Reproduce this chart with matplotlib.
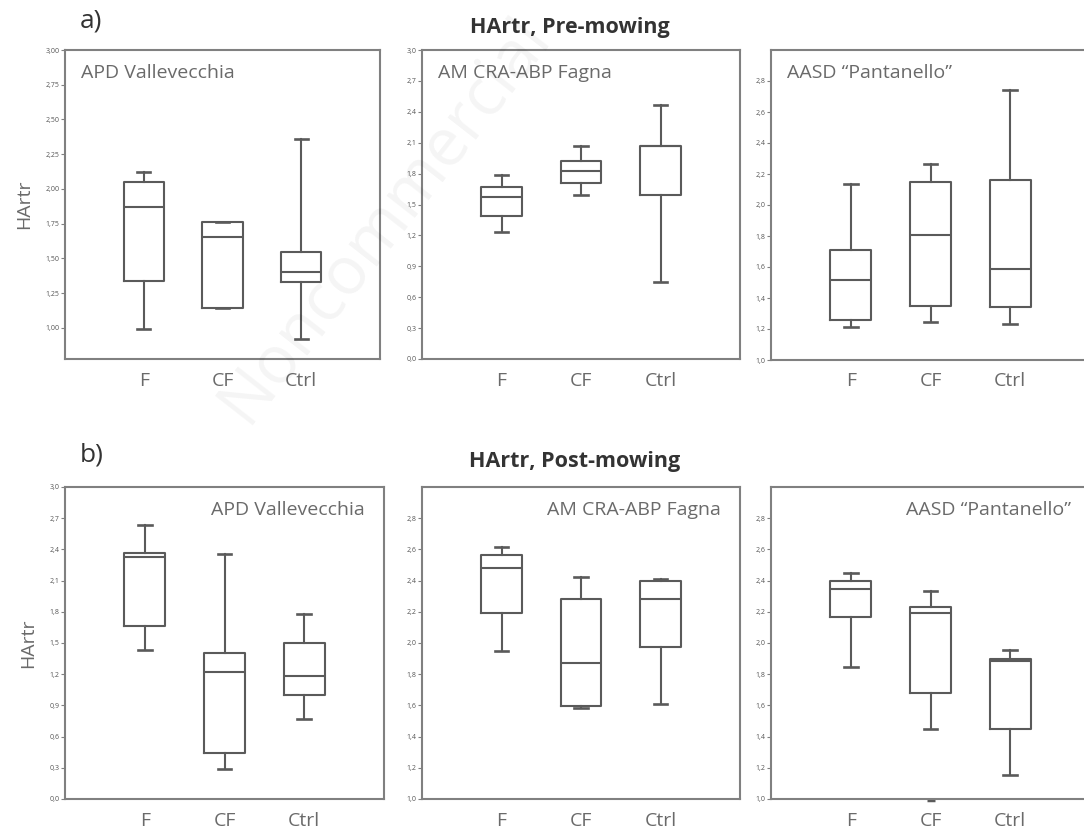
import numpy as np
import matplotlib
matplotlib.use("Agg")
import matplotlib.pyplot as plt
from matplotlib.ticker import FuncFormatter

plt.rcParams['font.family'] = ['Open Sans', 'DejaVu Sans']

groups = ["F", "CF", "Ctrl"]

# five-number summaries per group: [whisker low, q1, median, q3, whisker high]
pre_vallevecchia = [[0.995, 1.337, 1.872, 2.048, 2.120],
                    [1.145, 1.145, 1.651, 1.759, 1.759],
                    [0.920, 1.333, 1.402, 1.547, 2.357]]
pre_fagna = [[1.235, 1.387, 1.574, 1.668, 1.784],
             [1.597, 1.710, 1.826, 1.923, 2.065],
             [0.748, 1.597, 2.065, 2.065, 2.468]]
pre_pantanello = [[1.215, 1.256, 1.516, 1.710, 2.133],
                  [1.247, 1.348, 1.804, 2.150, 2.262],
                  [1.230, 1.344, 1.589, 2.159, 2.742]]
post_vallevecchia = [[1.433, 1.666, 2.328, 2.367, 2.639],
                     [0.288, 0.442, 1.225, 1.401, 2.360],
                     [0.768, 1.001, 1.187, 1.497, 1.778]]
post_fagna = [[1.948, 2.190, 2.481, 2.565, 2.618],
              [1.584, 1.595, 1.873, 2.284, 2.426],
              [1.606, 1.976, 2.284, 2.398, 2.408]]
post_pantanello = [[1.845, 2.169, 2.344, 2.398, 2.451],
                   [1.449, 1.681, 2.194, 2.233, 2.333],
                   [1.156, 1.449, 1.884, 1.895, 1.955]]
post_pantanello_outliers = [[], [0.995], []]

site_names = ["APD Vallevecchia", "AM CRA-ABP Fagna", "AASD \u201cPantanello\u201d"]

fig = plt.figure(figsize=(10.84, 8.33), dpi=100)
W, H = 1084.0, 833.0

def make_ax(x0, x1, ytop, ybot):
    return fig.add_axes([x0 / W, 1 - ybot / H, (x1 - x0) / W, (ybot - ytop) / H])

line_c = "#5a5a5a"
spine_c = "#808080"
text_c = "#6a6a6a"

def draw_panel(ax, summ, ylim, ticks, fmt, label, label_right, outliers=None):
    stats = []
    for i, s in enumerate(summ):
        d = dict(whislo=s[0], q1=s[1], med=s[2], q3=s[3], whishi=s[4],
                 fliers=outliers[i] if outliers else [])
        stats.append(d)
    parts = ax.bxp(stats, positions=[1, 2, 3], widths=0.51, capwidths=0.17,
                   showfliers=True, patch_artist=False,
                   boxprops=dict(color=line_c, lw=1.5),
                   medianprops=dict(color=line_c, lw=1.5),
                   whiskerprops=dict(color=line_c, lw=1.5),
                   capprops=dict(color=line_c, lw=1.9),
                   flierprops=dict(marker='_', markersize=6, markeredgecolor=line_c,
                                   markeredgewidth=2.5))
    for fl in parts['fliers']:
        fl.set_clip_on(False)
    ax.set_xlim(0, 4)
    ax.set_ylim(*ylim)
    ax.set_yticks(ticks)
    ax.yaxis.set_major_formatter(FuncFormatter(lambda v, p: (fmt % v).replace('.', ',')))
    ax.set_xticks([1, 2, 3])
    ax.set_xticklabels(groups, fontsize=14, color=text_c)
    ax.tick_params(axis='x', length=0, pad=9)
    ax.tick_params(axis='y', length=3, width=0.8, colors=spine_c, labelsize=5,
                   labelcolor="#555555", pad=1)
    for sp in ax.spines.values():
        sp.set_color(spine_c)
        sp.set_linewidth(1.5)
    if label_right:
        ax.text(0.94, 0.926, label, transform=ax.transAxes, ha='right', va='center',
                fontsize=14, color=text_c)
    else:
        ax.text(0.05, 0.926, label, transform=ax.transAxes, ha='left', va='center',
                fontsize=14, color=text_c)

# top row
a1 = make_ax(65, 380, 50, 359)
a2 = make_ax(422, 740, 50, 359)
a3 = make_ax(771, 1090, 50, 360)
draw_panel(a1, pre_vallevecchia, (0.776, 3.0), np.arange(1.0, 3.01, 0.25), "%.2f", site_names[0], False)
draw_panel(a2, pre_fagna, (0.0, 3.0), np.arange(0.0, 3.01, 0.3), "%.1f", site_names[1], False)
draw_panel(a3, pre_pantanello, (1.0, 3.0), np.arange(1.0, 2.81, 0.2), "%.1f", site_names[2], False)

# bottom row
b1 = make_ax(65, 384, 487, 799)
b2 = make_ax(422, 740, 487, 799)
b3 = make_ax(771, 1090, 487, 799)
draw_panel(b1, post_vallevecchia, (0.0, 3.0), np.arange(0.0, 3.01, 0.3), "%.1f", site_names[0], True)
draw_panel(b2, post_fagna, (1.0, 3.0), np.arange(1.0, 2.81, 0.2), "%.1f", site_names[1], True)
draw_panel(b3, post_pantanello, (1.0, 3.0), np.arange(1.0, 2.81, 0.2), "%.1f", site_names[2], True,
           outliers=post_pantanello_outliers)

for ax in (a1, b1):
    ax.set_ylabel("HArtr", fontsize=14, color=text_c, labelpad=9)

fig.text(80 / W, 1 - 21 / H, "a)", fontsize=19, color="#333333", ha='left', va='center')
fig.text(570 / W, 1 - 27 / H, "HArtr, Pre-mowing", fontsize=15.5, fontweight='bold',
         color="#333333", ha='center', va='center')
fig.text(80 / W, 1 - 455 / H, "b)", fontsize=19, color="#333333", ha='left', va='center')
fig.text(575 / W, 1 - 462 / H, "HArtr, Post-mowing", fontsize=15.5, fontweight='bold',
         color="#333333", ha='center', va='center')

# faint watermark
fig.text(385 / W, 1 - 220 / H, "Noncommercial", fontsize=48, color="#000000", alpha=0.045,
         rotation=52, ha='center', va='center', zorder=10)

fig.savefig("out.png", dpi=100)
